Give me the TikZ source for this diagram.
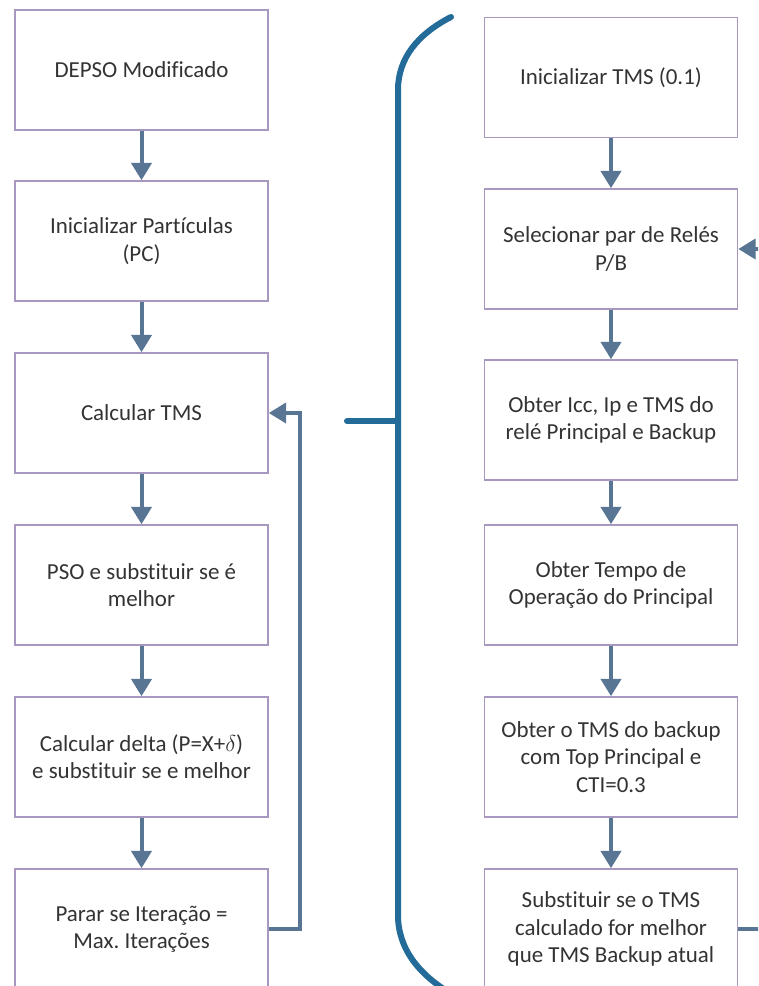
\documentclass[tikz,border=0pt]{standalone}
\usepackage{fontspec}
\setmainfont{Carlito}[Ligatures={NoCommon}]
\usetikzlibrary{arrows.meta, positioning, calc}
\usepackage{xcolor}
\definecolor{bordaroxa}{HTML}{A898C0}
\definecolor{setaazul}{HTML}{587593}
\definecolor{chaveazul}{HTML}{236B98}
\definecolor{textocinza}{HTML}{333333}
\frenchspacing

\begin{document}
\begin{tikzpicture}[
    x=0.75pt, y=-0.75pt,
    passo/.style={rectangle, draw=bordaroxa, line width=1.2pt, fill=white, minimum width=189.75pt, minimum height=90pt, inner sep=2pt, align=center, text=textocinza, font=\fontsize{17.2}{20.5}\selectfont},
    seta/.style={-{Triangle[length=13pt, width=15pt]}, draw=setaazul, line width=3pt},
    linha/.style={draw=setaazul, line width=3pt},
    chave/.style={draw=chaveazul, line width=4.5pt, line cap=round}
]
    \fill[white] (0,0) rectangle (758,986);
    \clip (0,0) rectangle (758,986);

    % Left column
    \node[passo] (depso) at (141.5, 70) {DEPSO Modificado};
    \node[passo] (initpc) at (141.5, 241) {Inicializar Partículas\\(PC)};
    \node[passo] (calctms) at (141.5, 413) {Calcular TMS};
    \node[passo] (pso) at (141.5, 585) {PSO e substituir se é\\melhor};
    \node[passo] (delta) at (141.5, 757) {Calcular delta (P=X+$\delta$)\\e substituir se e melhor};
    \node[passo] (parar) at (141.5, 929) {Parar se Iteração =\\Max. Iterações};

    \draw[seta] (depso) -- (initpc);
    \draw[seta] (initpc) -- (calctms);
    \draw[seta] (calctms) -- (pso);
    \draw[seta] (pso) -- (delta);
    \draw[seta] (delta) -- (parar);

    % Loop back to Calcular TMS
    \draw[seta] (parar.east) -- ++(31,0) |- (calctms.east);

    % Right column
    \node[passo] (inittms) at (611, 77.5) {Inicializar TMS (0.1)};
    \node[passo] (selpar) at (611, 249) {Selecionar par de Relés\\P/B};
    \node[passo] (obter) at (611, 420) {Obter Icc, Ip e TMS do\\relé Principal e Backup};
    \node[passo] (tempo) at (611, 585) {Obter Tempo de\\Operação do Principal};
    \node[passo] (tmsbk) at (611, 757) {Obter o TMS do backup\\com Top Principal e\\CTI=0.3};
    \node[passo] (subst) at (611, 929) {Substituir se o TMS\\calculado for melhor\\que TMS Backup atual};

    \draw[seta] (inittms) -- (selpar);
    \draw[seta] (selpar) -- (obter);
    \draw[seta] (obter) -- (tempo);
    \draw[seta] (tempo) -- (tmsbk);
    \draw[seta] (tmsbk) -- (subst);

    % Loop leaving the frame on the right
    \coordinate (fora1) at (770, 249);
    \coordinate (fora2) at (770, 929);
    \draw[seta] (fora1) -- (selpar.east);
    \draw[linha] (subst.east) -- (fora2);

    % Brace
    \coordinate (pontachave) at (347, 421);
    \draw[chave] (451, 17) .. controls (418, 34) and (398, 58) .. (398, 90)
        -- (398, 915) .. controls (398, 948) and (418, 975) .. (455, 996);
    \draw[chave] (398, 421) -- (pontachave);
\end{tikzpicture}
\end{document}
